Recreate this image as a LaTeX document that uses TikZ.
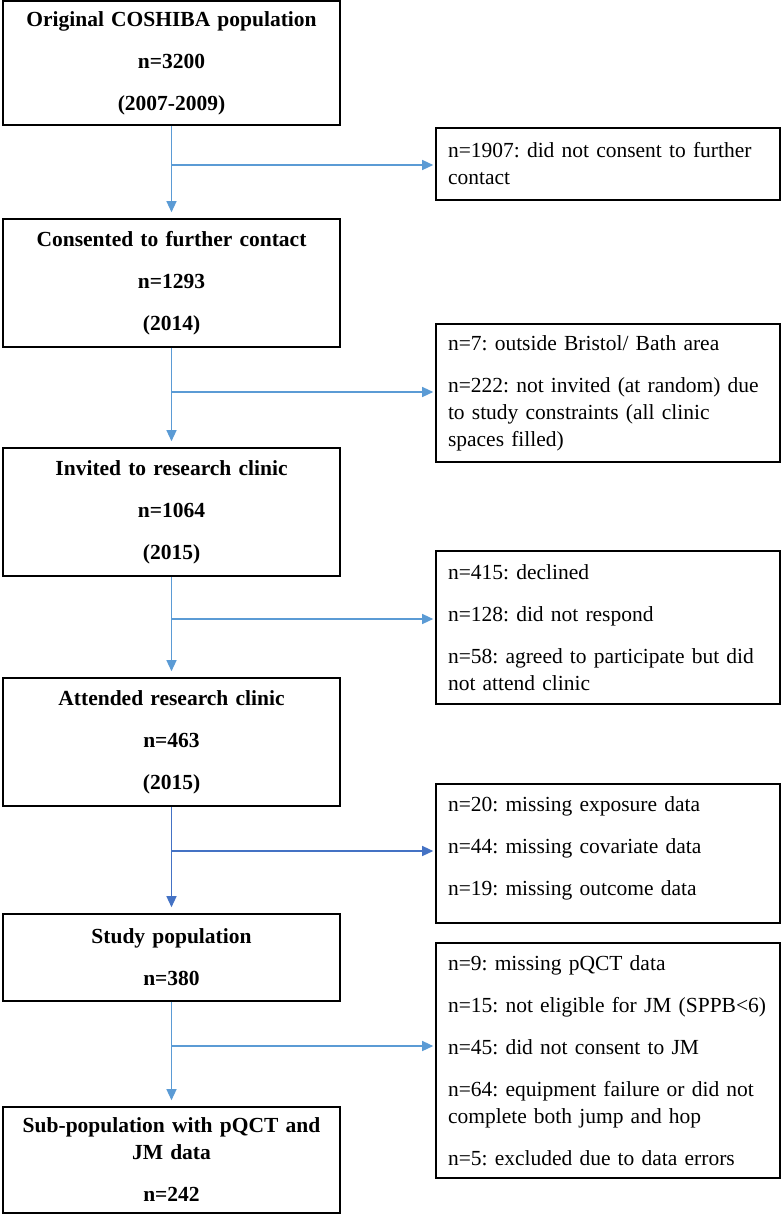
\documentclass[tikz,border=0pt]{standalone}
\usepackage{fontspec}
\setmainfont{Liberation Serif}
\usepackage{tikz}
\usetikzlibrary{arrows.meta}
\definecolor{flowblue}{HTML}{5B9BD5}
\definecolor{flowdark}{HTML}{4472C4}
\frenchspacing

\tikzset{
  stagebox/.style={draw, line width=1.6pt, minimum width=337pt, text width=309pt,
    inner xsep=14pt, inner ysep=0pt, align=center,
    font=\bfseries\fontsize{21.5pt}{27pt}\selectfont},
  exclbox/.style={draw, line width=1.6pt, minimum width=344pt, text width=320pt,
    inner xsep=12pt, inner ysep=0pt, align=left,
    font=\fontsize{21.5pt}{27pt}\selectfont},
  flow/.style={draw=flowblue, line width=1.3pt, -{Triangle[length=11pt,width=10pt]}},
  down/.style={flow, shorten >=6pt},
  side/.style={flow, shorten >=2pt},
}

\begin{document}
\begin{tikzpicture}[x=1pt,y=-1pt] % diagrama de flujo de la cohorte
		\useasboundingbox (0,0) rectangle (781,1215);
		% Columna principal
		\node[stagebox, minimum height=124pt] (orig) at (171.5,63) {Original COSHIBA population\\[15pt] n=3200\\[15pt] (2007-2009)};
		\node[stagebox, minimum height=128pt] (consent) at (171.5,283) {Consented to further contact\\[15pt] n=1293\\[15pt] (2014)};
		\node[stagebox, minimum height=128pt] (invited) at (171.5,512) {Invited to research clinic\\[15pt] n=1064\\[15pt] (2015)};
		\node[stagebox, minimum height=128pt] (attended) at (171.5,742) {Attended research clinic\\[15pt] n=463\\[15pt] (2015)};
		\node[stagebox, minimum height=87pt] (study) at (171.5,957.5) {Study population\\[15pt] n=380};
		\node[stagebox, minimum height=106pt] (subpop) at (171.5,1160) {Sub-population with pQCT and\\ JM data\\[15pt] n=242};
		% Exclusiones
		\node[exclbox, minimum height=72pt] (excl1) at (608,164) {n=1907: did not consent to further\\ contact};
		\node[exclbox, minimum height=138pt] (excl2) at (608,393) {n=7: outside Bristol/ Bath area\\[15pt] n=222: not invited (at random) due\\ to study constraints (all clinic\\ spaces filled)};
		\node[exclbox, minimum height=153pt] (excl3) at (608,627.5) {n=415: declined\\[15pt] n=128: did not respond\\[15pt] n=58: agreed to participate but did\\ not attend clinic};
		\node[exclbox, minimum height=139pt] (excl4) at (608,853.5) {n=20: missing exposure data\\[15pt] n=44: missing covariate data\\[15pt] n=19: missing outcome data\\[-12pt]\mbox{}};
		\node[exclbox, minimum height=235pt] (excl5) at (608,1060.5) {n=9: missing pQCT data\\[15pt] \mbox{n=15: not eligible for JM (SPPB<6)}\\[15pt] n=45: did not consent to JM\\[15pt] n=64: equipment failure or did not\\ complete both jump and hop\\[15pt] n=5: excluded due to data errors};
		% Puntos de bifurcacion
		\coordinate (b1) at (orig.south |- 0,165);
		\coordinate (b2) at (consent.south |- 0,392);
		\coordinate (b3) at (invited.south |- 0,619);
		\coordinate (b4) at (attended.south |- 0,851);
		\coordinate (b5) at (study.south |- 0,1046);
		% Flechas
		\draw[down] (orig.south) -- (consent.north);
		\draw[side] (b1) -- (b1 -| excl1.west);
		\draw[down] (consent.south) -- (invited.north);
		\draw[side] (b2) -- (b2 -| excl2.west);
		\draw[down] (invited.south) -- (attended.north);
		\draw[side] (b3) -- (b3 -| excl3.west);
		\draw[down, draw=flowdark] (attended.south) -- (study.north);
		\draw[side, draw=flowdark] (b4) -- (b4 -| excl4.west);
		\draw[down] (study.south) -- (subpop.north);
		\draw[side] (b5) -- (b5 -| excl5.west);
	\end{tikzpicture}
\end{document}
